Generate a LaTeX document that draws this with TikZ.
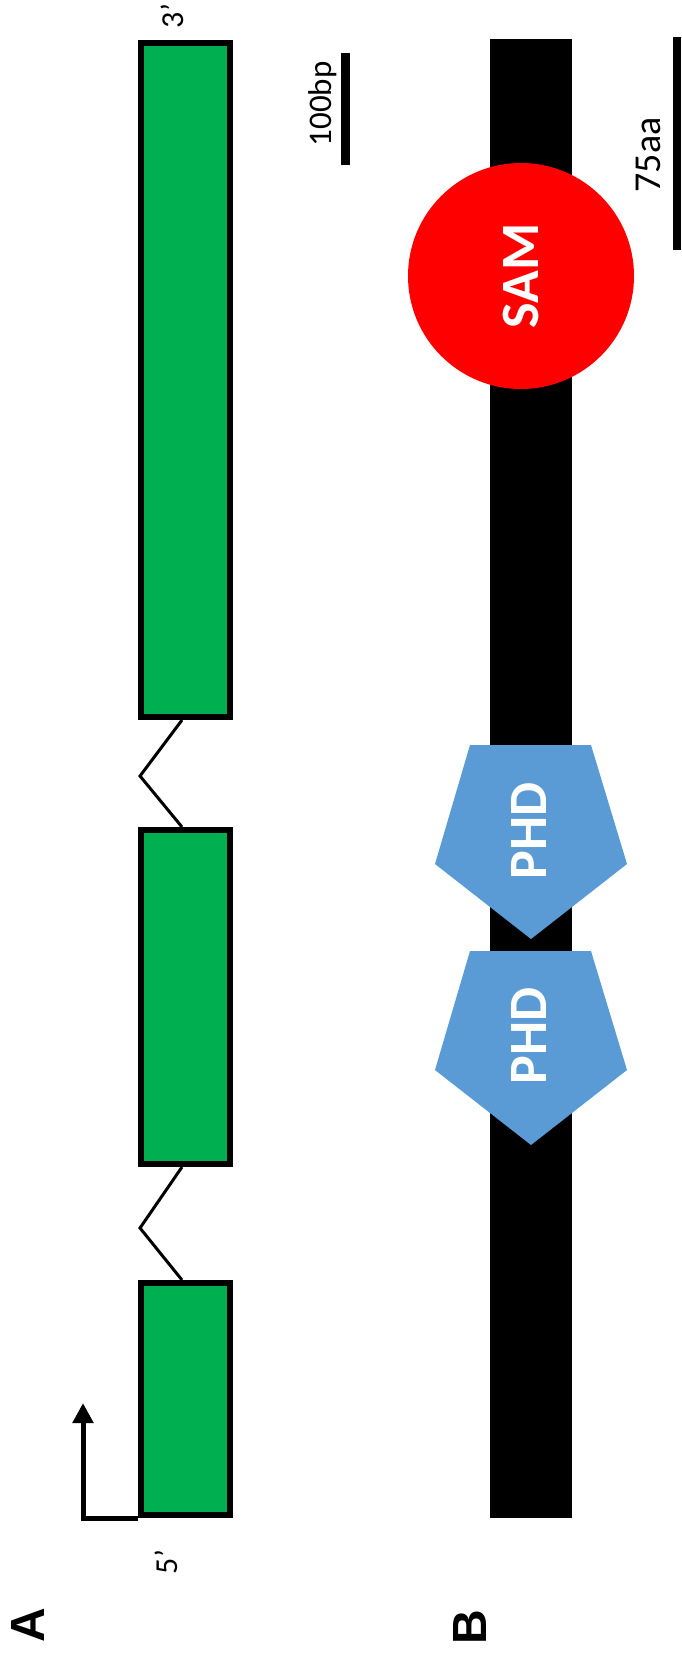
\documentclass[tikz,border=0pt]{standalone}
\usepackage{fontspec}
\usepackage{graphicx}
\setmainfont{Carlito}
\newfontfamily\labfont{Liberation Sans}
\usetikzlibrary{arrows.meta,shapes.geometric}
\definecolor{exongreen}{HTML}{00B050}
\definecolor{phdblue}{HTML}{5B9BD5}
\definecolor{samred}{HTML}{FF0000}
\begin{document}
\begin{tikzpicture}[x=1pt,y=-1pt,
  exon/.style={rectangle, draw=black, line width=6pt, fill=exongreen, minimum width=89pt, inner sep=0pt},
  intron/.style={draw=black, line width=3pt, line join=miter},
  scalebar/.style={rectangle, fill=black, inner sep=0pt},
  domaintext/.style={text=white, font=\bfseries\fontsize{54}{60}\selectfont},
  phdshape/.style={fill=phdblue},
  paneltag/.style={rotate=90, font=\labfont\bfseries\fontsize{48}{54}\selectfont},
  endlabel/.style={rotate=90, font=\fontsize{32}{36}\selectfont}
]
\fill[white] (0,0) rectangle (681,1663);
\useasboundingbox (0,0) rectangle (681,1663);

% Panel A: gene structure
\node[exon, minimum height=674pt] (e3) at (185.5,380) {};
\node[exon, minimum height=334pt] (e2) at (185.5,997) {};
\node[exon, minimum height=232pt] (e1) at (185.5,1399) {};
\draw[intron] ([xshift=-3.5pt]e3.south) -- ++(-42,56) -- ([xshift=-3.5pt]e2.north);
\draw[intron] ([xshift=-3.5pt]e2.south) -- ++(-42,61) -- ([xshift=-3.5pt]e1.north);
\coordinate (tss) at (83,1403);
\draw[line width=5pt, -{Triangle[width=20pt,length=20pt]}] (e1.south west) -| (tss);
\node[endlabel] (five) at (166,1562) {5'};
\node[endlabel] (three) at (172,16) {3'};
\node[scalebar, minimum width=9pt, minimum height=112pt] (bar100) at (345,109) {};
\node[rotate=90, font=\fontsize{33}{38}\selectfont] (bp) at (323,104) {100bp};
\node[paneltag] (labA) at (28,1625) {A};

% Panel B: protein domains
\node[rectangle, fill=black, inner sep=0pt, minimum width=82pt, minimum height=1479pt] (prot) at (531,778.5) {};
\node[circle, fill=samred, inner sep=0pt, minimum size=226pt, domaintext] (sam) at (521,276) {\rotatebox{90}{SAM}};
\fill[phdshape] (470,745) -- (591,745) -- (627,864) -- (531,939) -- (435,864) -- cycle;
\node[domaintext] (phd1) at (529,831) {\rotatebox{90}{PHD}};
\fill[phdshape] (470,951) -- (591,951) -- (627,1070) -- (531,1145) -- (435,1070) -- cycle;
\node[domaintext] (phd2) at (529,1036) {\rotatebox{90}{PHD}};
\node[scalebar, minimum width=8pt, minimum height=213pt] (bar75) at (677,143.5) {};
\node[rotate=90, font=\fontsize{38}{44}\selectfont] (aa) at (648,155) {75aa};
\node[paneltag] (labB) at (470,1627) {B};
\end{tikzpicture}
\end{document}
